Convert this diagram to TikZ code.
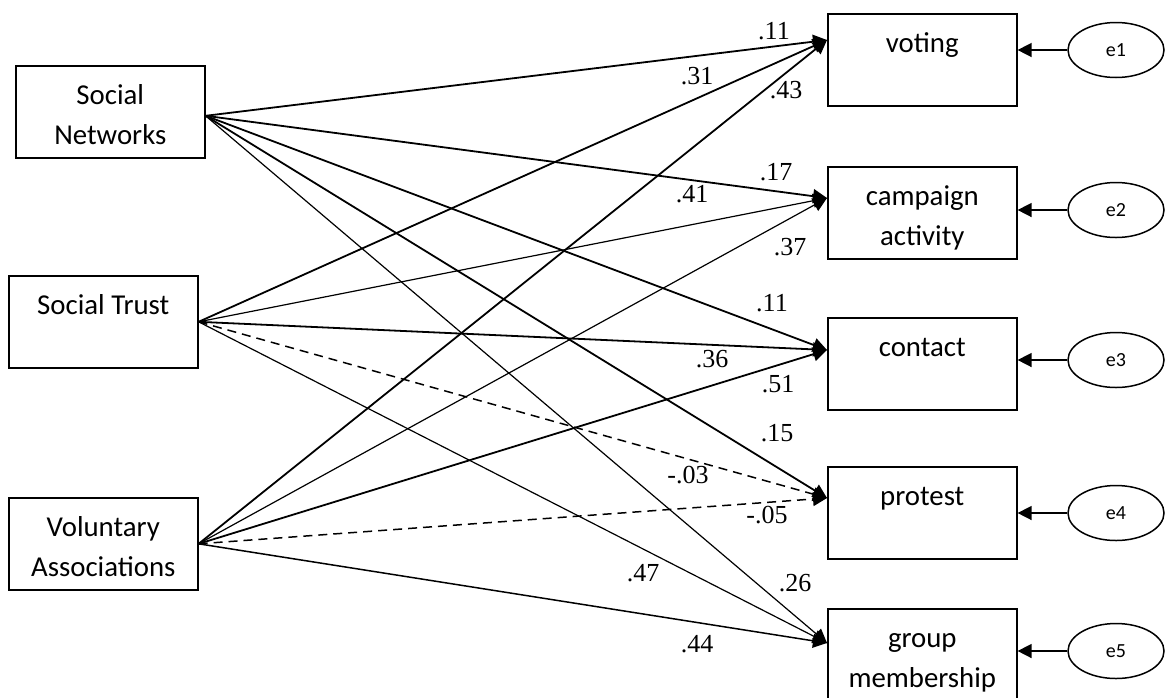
\documentclass[tikz,border=0pt]{standalone}
\usepackage{fontspec}
\setmainfont{Carlito}
\newfontfamily\coeffont{Liberation Serif}
\usetikzlibrary{arrows.meta, shapes.geometric}

\begin{document}
\begin{tikzpicture}[
  x=0.5pt, y=-0.5pt,
  varbox/.style={draw, line width=0.8pt, align=center, anchor=north west,
                 font=\fontsize{14.4}{20}\selectfont, minimum width=94.5pt,
                 inner xsep=0pt, inner ysep=0pt,
                 text height=19.5pt, text depth=26.5pt},
  twoline/.style={text height=39.5pt, text depth=6.5pt},
  err/.style={draw, ellipse, line width=0.75pt, minimum width=48pt,
              minimum height=27.5pt, inner sep=0pt,
              font=\fontsize{10}{12}\selectfont},
  coef/.style={font=\coeffont\fontsize{13}{15}\selectfont, inner sep=0pt},
  heavy/.style={line width=0.9pt},
  light/.style={line width=0.6pt},
  neg/.style={line width=0.75pt, dash pattern=on 4.5pt off 3pt},
  >={Triangle[length=7pt, width=7pt]}
]
\useasboundingbox (0,0) rectangle (1165,697);

% predictors
\node[varbox, twoline] (sn) at (15,65)  {Social\\Networks};
\node[varbox] (st) at (8,275)  {Social Trust};
\node[varbox, twoline] (va) at (8,497)  {Voluntary\\Associations};

% outcomes
\node[varbox] (voting)   at (827,13)  {voting};
\node[varbox, twoline] (campaign) at (827,166) {campaign\\activity};
\node[varbox] (contact)  at (827,317) {contact};
\node[varbox] (protest)  at (827,466) {protest};
\node[varbox, twoline] (group)    at (827,608) {group\\membership};

% error terms
\node[err] (e1) at (1116,50)  {e1};
\node[err] (e2) at (1116,210) {e2};
\node[err] (e3) at (1116,360) {e3};
\node[err] (e4) at (1116,513) {e4};
\node[err] (e5) at (1116,651) {e5};

\coordinate (sn-out) at ([yshift=-2pt]sn.east);
\coordinate (voting-in)   at ([yshift=-13.5pt]voting.north west);
\coordinate (campaign-in) at ([yshift=-16pt]campaign.north west);
\coordinate (contact-in)  at ([yshift=-16.5pt]contact.north west);
\coordinate (protest-in)  at ([yshift=-16pt]protest.north west);
\coordinate (group-in)    at ([yshift=-17.5pt]group.north west);

% paths
\draw[heavy, ->] (sn-out) -- (voting-in);
\draw[heavy, ->] (sn-out) -- (campaign-in);
\draw[heavy, ->] (sn-out) -- (contact-in);
\draw[heavy, ->] (sn-out) -- (protest-in);
\draw[light, ->] (sn-out) -- (group-in);
\draw[heavy, ->] (st.east) -- (voting-in);
\draw[light, ->] (st.east) -- (campaign-in);
\draw[heavy, ->] (st.east) -- (contact-in);
\draw[neg, ->] (st.east) -- (protest-in);
\draw[light, ->] (st.east) -- (group-in);
\draw[heavy, ->] (va.east) -- (voting-in);
\draw[light, ->] (va.east) -- (campaign-in);
\draw[heavy, ->] (va.east) -- (contact-in);
\draw[neg, ->] (va.east) -- (protest-in);
\draw[line width=0.75pt, ->] (va.east) -- (group-in);

\foreach \e/\v in {e1/voting, e2/campaign, e3/contact, e4/protest, e5/group}
  \draw[line width=0.75pt, ->] (\e) -- (\e -| \v.east);

% coefficients
\node[coef] (c-sn-voting)   at (774,31)  {.11};
\node[coef] (c-st-voting)   at (697,76)  {.31};
\node[coef] (c-va-voting)   at (786,90)  {.43};
\node[coef] (c-sn-campaign) at (776,172) {.17};
\node[coef] (c-st-campaign) at (692,194) {.41};
\node[coef] (c-va-campaign) at (790,247) {.37};
\node[coef] (c-sn-contact)  at (772,303) {.11};
\node[coef] (c-st-contact)  at (712,359) {.36};
\node[coef] (c-va-contact)  at (778,384) {.51};
\node[coef] (c-sn-protest)  at (777,433) {.15};
\node[coef] (c-st-protest)  at (688,475) {-.03};
\node[coef] (c-va-protest)  at (767,515) {-.05};
\node[coef] (c-st-group)    at (643,573) {.47};
\node[coef] (c-sn-group)    at (795,583) {.26};
\node[coef] (c-va-group)    at (697,644) {.44};
\end{tikzpicture}
\end{document}
